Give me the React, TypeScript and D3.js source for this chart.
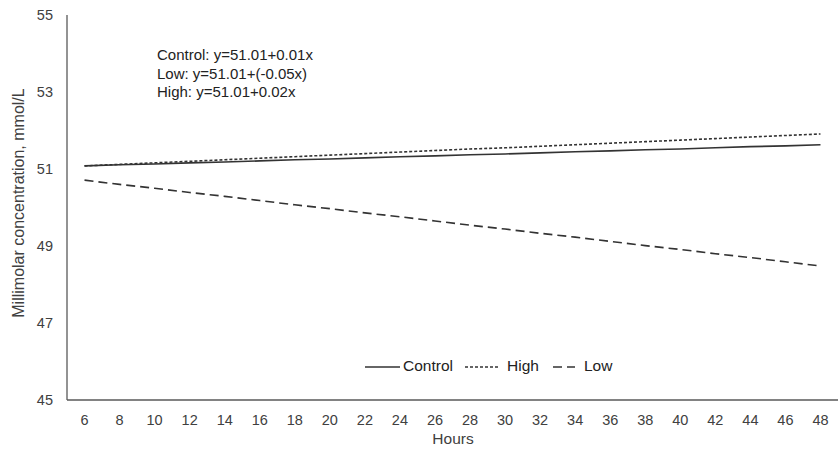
import React, { useEffect, useRef } from 'react';
import * as d3 from 'd3';

const hours = [6, 8, 10, 12, 14, 16, 18, 20, 22, 24, 26, 28, 30, 32, 34, 36, 38, 40, 42, 44, 46, 48];
const control = [51.08, 51.11, 51.13, 51.16, 51.18, 51.21, 51.24, 51.26, 51.29, 51.32, 51.34, 51.37, 51.39, 51.42, 51.45, 51.47, 51.5, 51.52, 51.55, 51.58, 51.6, 51.63];
const high = [51.08, 51.12, 51.16, 51.2, 51.24, 51.28, 51.32, 51.36, 51.4, 51.44, 51.48, 51.52, 51.55, 51.59, 51.63, 51.67, 51.71, 51.75, 51.79, 51.83, 51.87, 51.91];
const low = [50.71, 50.6, 50.5, 50.39, 50.29, 50.18, 50.07, 49.97, 49.86, 49.76, 49.65, 49.54, 49.44, 49.33, 49.23, 49.12, 49.01, 48.91, 48.8, 48.7, 48.59, 48.48];
const yTicks = [45, 47, 49, 51, 53, 55];
const equations = ['Control: y=51.01+0.01x', 'Low: y=51.01+(-0.05x)', 'High: y=51.01+0.02x'];

const series = [
  { name: 'Control', values: control, dash: null },
  { name: 'High', values: high, dash: '3,2' },
  { name: 'Low', values: low, dash: '9,5' },
];

const W = 840;
const H = 452;
const FONT = 'Liberation Sans, Arial, sans-serif';
const INK = '#404040';

export default function App() {
  const svgRef = useRef<SVGSVGElement>(null);

  useEffect(() => {
    if (!svgRef.current) return;
    const svg = d3.select(svgRef.current);
    svg.selectAll('*').remove();

    const left = 67, right = 838, top = 15, bottom = 400;
    const x = d3.scaleBand<number>().domain(hours).range([left, right]);
    const y = d3.scaleLinear().domain([45, 55]).range([bottom, top]);

    // axes
    svg.append('line').attr('x1', left).attr('x2', left).attr('y1', top).attr('y2', bottom)
      .attr('stroke', '#595959').attr('stroke-width', 1.3);
    svg.append('line').attr('x1', left).attr('x2', right).attr('y1', bottom).attr('y2', bottom)
      .attr('stroke', '#595959').attr('stroke-width', 1.3);

    svg.append('g').selectAll('text').data(yTicks).enter().append('text')
      .attr('x', 53).attr('y', d => y(d)).attr('dy', '0.35em')
      .attr('text-anchor', 'end').attr('font-size', 14.5).attr('font-family', FONT).attr('fill', INK)
      .text(d => d);

    svg.append('g').selectAll('text').data(hours).enter().append('text')
      .attr('x', d => (x(d) ?? 0) + x.bandwidth() / 2).attr('y', 425)
      .attr('text-anchor', 'middle').attr('font-size', 14.5).attr('font-family', FONT).attr('fill', INK)
      .text(d => d);

    svg.append('text').attr('x', 453).attr('y', 444).attr('text-anchor', 'middle')
      .attr('font-size', 15.5).attr('font-family', FONT).attr('fill', INK).text('Hours');

    svg.append('text').attr('transform', `translate(24, 203) rotate(-90)`)
      .attr('text-anchor', 'middle').attr('font-size', 16).attr('font-family', FONT).attr('fill', INK)
      .text('Millimolar concentration, mmol/L');

    // lines
    const line = d3.line<number>()
      .x((_, i) => (x(hours[i]) ?? 0) + x.bandwidth() / 2)
      .y(d => y(d));

    series.forEach(s => {
      svg.append('path').attr('d', line(s.values))
        .attr('fill', 'none').attr('stroke', '#333').attr('stroke-width', 1.6)
        .attr('stroke-dasharray', s.dash);
    });

    // equations
    svg.append('g').selectAll('text').data(equations).enter().append('text')
      .attr('x', 157).attr('y', (_, i) => 60 + i * 18.5)
      .attr('font-size', 15).attr('font-family', FONT).attr('fill', '#222')
      .text(d => d);

    // legend
    const legend = [
      { name: 'Control', dash: null, x1: 365, x2: 400 },
      { name: 'High', dash: '3,2', x1: 465, x2: 498 },
      { name: 'Low', dash: '9,5', x1: 553, x2: 575 },
    ];
    legend.forEach(l => {
      svg.append('line').attr('x1', l.x1).attr('x2', l.x2).attr('y1', 367).attr('y2', 367)
        .attr('stroke', '#333').attr('stroke-width', 1.6).attr('stroke-dasharray', l.dash);
      svg.append('text').attr('x', l.x2 + (l.name === 'Control' ? 3 : 9)).attr('y', 366).attr('dy', '0.35em')
        .attr('font-size', 15.5).attr('font-family', FONT).attr('fill', '#222').text(l.name);
    });
  }, []);

  return (
    <svg ref={svgRef} width={W} height={H}
      style={{ position: 'absolute', left: 0, top: 0, background: '#fff' }} />
  );
}
